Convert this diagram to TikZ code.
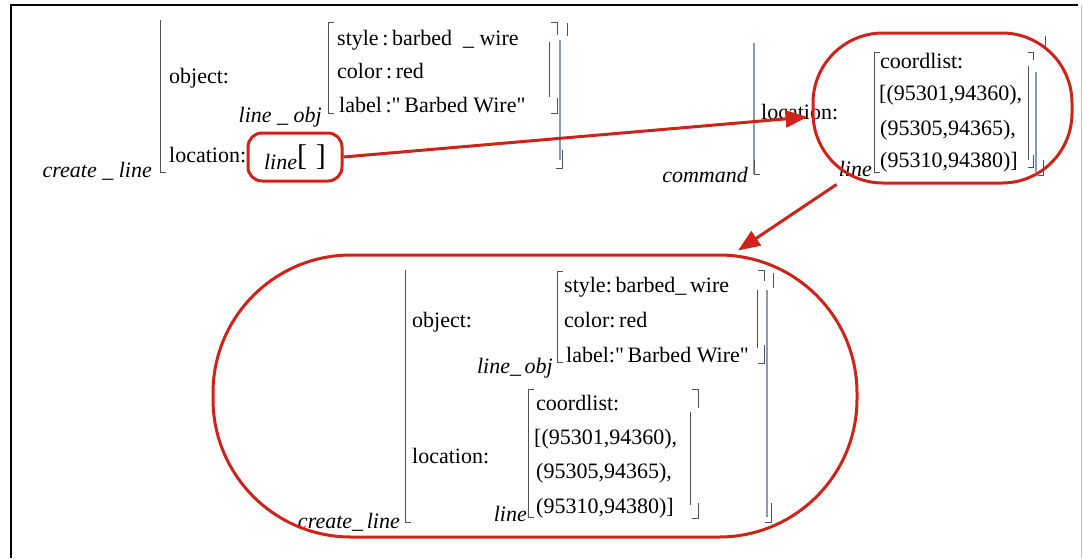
\documentclass[tikz,border=0pt]{standalone}
\usepackage{fontspec}
\setmainfont{Liberation Serif}
\usetikzlibrary{arrows.meta,positioning,calc}
\definecolor{avmred}{RGB}{205,35,25}
\definecolor{avmgray}{RGB}{80,80,88}
\definecolor{avmblue}{RGB}{135,155,185}

\begin{document}
\begin{tikzpicture}[x=1pt, y=-1pt,
    font=\fontsize{22}{26}\selectfont,
    feat/.style={inner sep=0pt, anchor=base west},
    avmtype/.style={inner sep=0pt, anchor=base east, font=\fontsize{22}{26}\selectfont\itshape},
    brk/.style={draw=avmgray, line width=1pt},
    brkblue/.style={draw=avmblue, line width=1.2pt},
    ring/.style={rectangle, draw=avmred, line width=3pt},
    redarrow/.style={-{Triangle[length=22pt, width=17pt]}, draw=avmred, fill=avmred, line width=3pt}
  ]
    \useasboundingbox (0,0) rectangle (1083,558);
    % frame
    \draw[black, line width=2.2pt] (11,558) -- (11,5) -- (1078,5);
    \draw[gray!45, line width=0.8pt] (1081,5) -- (1081,558);

    % first structure: create_line with an empty line
    \node[avmtype] (cl1) at (152,177) {create\ \_\ line};
    \draw[brk] (160,20) -- (160,172) -- (166,172);
    \node[feat] (obj1) at (169,83) {object:};
    \node[feat] (loc1) at (169,162) {location:};
    \node[avmtype] (lo1) at (322,122) {line\ \_\ obj};
    \draw[brk] (334,22) -- (328,22) -- (328,113) -- (334,113);
    \node[feat] (sty1) at (337,45) {style\,:\,barbed\ \ \_\ wire};
    \node[feat] (col1) at (337,78) {color\,:\,red};
    \node[feat] (lab1) at (339,112) {label\,:\textquotedbl\,Barbed Wire\textquotedbl};
    \draw[brk] (551,22) -- (557,22) -- (557,35);
    \draw[brk] (549,42) -- (549,97);
    \draw[brk] (557,98) -- (557,113) -- (551,113);
    \draw[brkblue] (560,40) -- (560,160);
    \draw[brk] (562,150) -- (562,168) -- (556,168);
    \draw[brk] (567,23) -- (567,36);
    \node[ring, rounded corners=14pt, minimum width=94pt, minimum height=48pt] (linebox) at (295,157)
      {\textit{line}\raisebox{4pt}{\fontsize{30}{30}\selectfont[\hspace{9pt}]}};

    % second structure: command with the coordinate list
    \node[avmtype] (cmd) at (748,182) {command};
    \draw[brkblue] (754,43) -- (754,174);
    \draw[brk] (754,160) -- (754,174) -- (760,174);
    \node[feat] (loc2) at (761,119) {location:};
    \node[avmtype] (ln2) at (872,176) {line};
    \draw[brk] (880,52) -- (874,52) -- (874,172) -- (880,172);
    \node[feat] (cl2) at (880,68) {coordlist:};
    \node[feat] (p21) at (879,100) {[(95301,94360),};
    \node[feat] (p22) at (880,135) {(95305,94365),};
    \node[feat] (p23) at (880,167) {(95310,94380)]};
    \draw[brk] (1028,52) -- (1033,52) -- (1033,60);
    \draw[brk] (1028,66) -- (1028,160);
    \draw[brk] (1033,155) -- (1033,167) -- (1028,167);
    \draw[brkblue] (1036,72) -- (1036,172);
    \draw[brk] (1043,160) -- (1043,175) -- (1038,175);
    \draw[brk] (1045,36) -- (1045,50);
    \node[ring, rounded corners=70pt, minimum width=259pt, minimum height=150pt] (rhs) at (942.5,108) {};

    % result of the unification
    \node[avmtype] (cl3) at (400,528) {create\_\,line};
    \draw[brk] (405,270) -- (405,522) -- (411,522);
    \node[feat] (obj3) at (412,327) {object:};
    \node[feat] (loc3) at (412,463) {location:};
    \node[avmtype] (lo3) at (553,373) {line\_\,obj};
    \draw[brk] (563,271) -- (557,271) -- (557,362) -- (563,362);
    \node[feat] (sty3) at (564,292) {style:\,barbed\_\,wire};
    \node[feat] (col3) at (564,327) {color:\,red};
    \node[feat] (lab3) at (566,362) {label:\textquotedbl\,Barbed Wire\textquotedbl};
    \draw[brk] (758,270) -- (764,270) -- (764,281);
    \draw[brk] (757,290) -- (757,348);
    \draw[brk] (764,345) -- (764,363) -- (758,363);
    \draw[brk] (773,273) -- (773,288);
    \draw[brkblue] (767,290) -- (767,517);
    \draw[brk] (771,503) -- (771,522) -- (765,522);
    \node[avmtype] (ln3) at (527,521) {line};
    \draw[brk] (534,389) -- (528,389) -- (528,517) -- (534,517);
    \node[feat] (cl4) at (536,410) {coordlist:};
    \node[feat] (p31) at (534,444) {[(95301,94360),};
    \node[feat] (p32) at (536,478) {(95305,94365),};
    \node[feat] (p33) at (536,513) {(95310,94380)]};
    \draw[brk] (692,389) -- (698,389) -- (698,408);
    \draw[brk] (690,412) -- (690,505);
    \draw[brk] (698,503) -- (698,518) -- (692,518);
    \node[ring, rounded corners=138pt, minimum width=644pt, minimum height=282pt] (big) at (535,396) {};

    % arrows
    \draw[redarrow] (linebox.east) -- ([yshift=-9pt, xshift=-4pt]rhs.west);
    \draw[redarrow] ([xshift=25pt]rhs.south west) -- ([xshift=203pt, yshift=3pt]big.north);
\end{tikzpicture}
\end{document}
